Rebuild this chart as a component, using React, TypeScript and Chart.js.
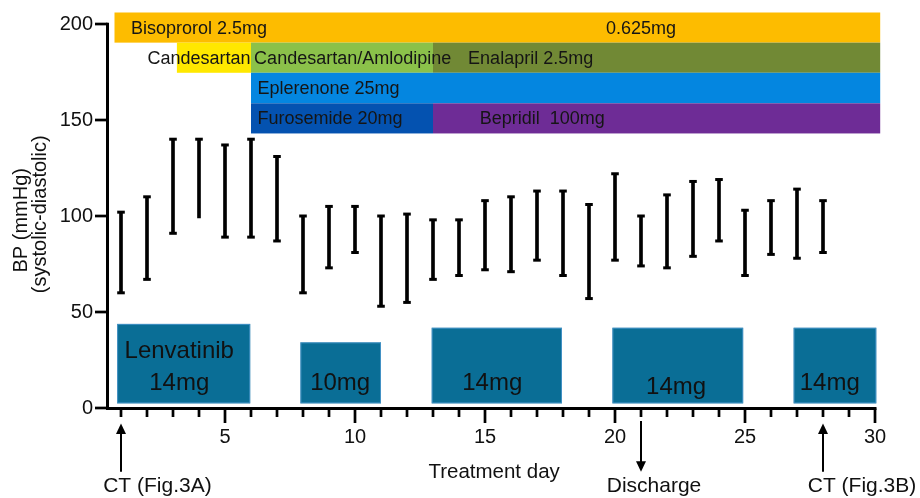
import React, { useEffect, useRef } from 'react';
import { Chart, registerables } from 'chart.js';

Chart.register(...registerables);

const FONT = '"Liberation Sans", Arial, Helvetica, sans-serif';

// Blood pressure (systolic-diastolic) per treatment day
const days = [1, 2, 3, 4, 5, 6, 7, 8, 9, 10, 11, 12, 13, 14, 15, 16, 17, 18, 19, 20, 21, 22, 23, 24, 25, 26, 27, 28];
const systolic = [102, 110, 140, 140, 137, 140, 131, 100, 105, 105, 100, 101, 98, 98, 108, 110, 113, 113, 106, 122, 100, 111, 118, 119, 103, 108, 114, 108];
const diastolic = [60, 67, 91, 99, 89, 89, 87, 60, 73, 81, 53, 55, 67, 69, 72, 71, 77, 69, 57, 77, 74, 73, 79, 87, 69, 80, 78, 81];
const lowerCapShown = [true, true, true, false, true, true, true, true, true, true, true, true, true, true, true, true, true, true, true, true, true, true, true, true, true, true, true, true];

// Axis ticks
const xTickValues = [5, 10, 15, 20, 25, 30];
const yTickValues = [0, 50, 100, 150, 200];
const xMin = 0.5;
const xMax = 30.2;
const yMin = 0;
const yMax = 206;

// Concomitant drug regimens (day ranges, band range in y units)
const drugNames = ['Bisoprorol 2.5mg', 'Candesartan', 'Candesartan/Amlodipine', 'Enalapril 2.5mg', 'Eplerenone 25mg', 'Furosemide 20mg', 'Bepridil  100mg'];
const drugStart = [0.75, 3.15, 6, 13, 6, 6, 13];
const drugEnd = [30.2, 6, 13, 30.2, 30.2, 13, 30.2];
const drugLow = [190.3, 174.6, 174.6, 174.6, 158.7, 143, 143];
const drugHigh = [206, 190.3, 190.3, 190.3, 174.6, 158.7, 158.7];
const drugColors = ['#FDBC00', '#FFE800', '#8BC14A', '#718935', '#0486E0', '#0452B0', '#6E2C96'];
const drugLabelDay = [1.385, 5.98, 6.12, 14.35, 6.25, 6.25, 14.8];
const drugLabelAlign = ['left', 'right', 'left', 'left', 'left', 'left', 'left'];
const doseChangeLabel = '0.625mg';
const doseChangeDay = 21;
const doseChangeRow = 0;

// Lenvatinib dosing periods
const lenvStart = [0.85, 7.9, 12.95, 19.9, 26.87];
const lenvEnd = [5.97, 11.0, 17.96, 24.93, 30.05];
const lenvTop = [43.8, 34.2, 41.8, 41.8, 41.8];
const lenvBottom = 2.4;
const lenvLabels = [['Lenvatinib', '14mg'], ['10mg'], ['14mg'], ['14mg'], ['14mg']];
const lenvLabelDay = [3.24, 9.43, 15.28, 22.35, 28.26];
const lenvLabelLevel = [13, 13, 13, 11, 13];

// Events
const eventDays = [1, 21, 28];
const eventLabels = ['CT (Fig.3A)', 'Discharge', 'CT (Fig.3B)'];
const eventDirs = ['up', 'down', 'up'];
const eventLabelDay = [2.4, 21.5, 29.5];

const decorPlugin = {
  id: 'bpDecor',
  beforeDatasetsDraw(chart: any) {
    const { ctx, scales } = chart;
    const x = scales.x;
    const y = scales.y;
    ctx.save();
    // drug bands
    drugNames.forEach((_, i) => {
      const x0 = x.getPixelForValue(drugStart[i]);
      const x1 = x.getPixelForValue(drugEnd[i]);
      const y0 = y.getPixelForValue(drugHigh[i]);
      const y1 = y.getPixelForValue(drugLow[i]);
      ctx.fillStyle = drugColors[i];
      ctx.fillRect(x0, y0, x1 - x0, y1 - y0);
    });
    // lenvatinib boxes
    lenvStart.forEach((s, i) => {
      const x0 = x.getPixelForValue(s);
      const x1 = x.getPixelForValue(lenvEnd[i]);
      const y0 = y.getPixelForValue(lenvTop[i]);
      const y1 = y.getPixelForValue(lenvBottom);
      ctx.fillStyle = '#0A6E96';
      ctx.fillRect(x0, y0, x1 - x0, y1 - y0);
      ctx.strokeStyle = 'rgba(90,160,215,0.7)';
      ctx.lineWidth = 1;
      ctx.strokeRect(x0 + 0.5, y0 + 0.5, x1 - x0 - 1, y1 - y0 - 1);
    });
    // texts in drug bands
    ctx.fillStyle = '#151515';
    ctx.font = `18px ${FONT}`;
    ctx.textBaseline = 'middle';
    drugNames.forEach((n, i) => {
      ctx.textAlign = drugLabelAlign[i] as CanvasTextAlign;
      const cy = y.getPixelForValue((drugLow[i] + drugHigh[i]) / 2) + 1;
      ctx.fillText(n, x.getPixelForValue(drugLabelDay[i]), cy);
    });
    ctx.textAlign = 'center';
    ctx.fillText(
      doseChangeLabel,
      x.getPixelForValue(doseChangeDay),
      y.getPixelForValue((drugLow[doseChangeRow] + drugHigh[doseChangeRow]) / 2) + 1
    );
    // texts in lenvatinib boxes
    ctx.font = `24px ${FONT}`;
    ctx.fillStyle = '#111';
    lenvLabels.forEach((lines, i) => {
      const cx = x.getPixelForValue(lenvLabelDay[i]);
      const baseY = y.getPixelForValue(lenvLabelLevel[i]);
      lines.forEach((t, k) => {
        ctx.fillText(t, cx, baseY - (lines.length - 1 - k) * 31.3);
      });
    });
    ctx.restore();
  },
  afterDatasetsDraw(chart: any) {
    const { ctx, scales, chartArea } = chart;
    const x = scales.x;
    const y = scales.y;
    ctx.save();
    ctx.strokeStyle = '#000';
    ctx.fillStyle = '#000';
    // error-bar caps
    ctx.lineWidth = 3;
    days.forEach((d, i) => {
      const px = x.getPixelForValue(d);
      const caps = lowerCapShown[i] ? [systolic[i], diastolic[i]] : [systolic[i]];
      caps.forEach((v) => {
        const py = y.getPixelForValue(v);
        ctx.beginPath();
        ctx.moveTo(px - 3.8, py);
        ctx.lineTo(px + 3.8, py);
        ctx.stroke();
      });
    });
    // axes
    const ax = chartArea.left - 0.5;
    const ay = y.getPixelForValue(0) + 0.5;
    ctx.lineWidth = 3;
    ctx.beginPath();
    ctx.moveTo(ax, y.getPixelForValue(200) - 1.3);
    ctx.lineTo(ax, ay + 1.5);
    ctx.stroke();
    ctx.beginPath();
    ctx.moveTo(ax - 1.5, ay);
    ctx.lineTo(x.getPixelForValue(30) + 1.5, ay);
    ctx.stroke();
    ctx.lineWidth = 2.7;
    yTickValues.forEach((v) => {
      const py = y.getPixelForValue(v);
      ctx.beginPath();
      ctx.moveTo(ax - 12.5, py);
      ctx.lineTo(ax, py);
      ctx.stroke();
    });
    for (let d = 1; d <= 30; d++) {
      const px = x.getPixelForValue(d);
      ctx.beginPath();
      ctx.moveTo(px, ay);
      ctx.lineTo(px, ay + (d % 5 === 0 ? 14.5 : 8.5));
      ctx.stroke();
    }
    // event arrows and labels
    ctx.lineWidth = 2;
    ctx.font = `21px ${FONT}`;
    ctx.textAlign = 'center';
    ctx.textBaseline = 'middle';
    eventDays.forEach((d, i) => {
      const px = x.getPixelForValue(d);
      const top = eventDirs[i] === 'up' ? ay + 15 : ay + 12.5;
      const bottom = ay + 63.3;
      ctx.beginPath();
      if (eventDirs[i] === 'up') {
        ctx.moveTo(px, bottom);
        ctx.lineTo(px, top + 8);
        ctx.stroke();
        ctx.beginPath();
        ctx.moveTo(px, top);
        ctx.lineTo(px - 5, top + 10.5);
        ctx.lineTo(px + 5, top + 10.5);
      } else {
        ctx.moveTo(px, top);
        ctx.lineTo(px, bottom - 8);
        ctx.stroke();
        ctx.beginPath();
        ctx.moveTo(px, bottom);
        ctx.lineTo(px - 5, bottom - 10.5);
        ctx.lineTo(px + 5, bottom - 10.5);
      }
      ctx.closePath();
      ctx.fill();
      ctx.fillStyle = '#111';
      ctx.fillText(eventLabels[i], x.getPixelForValue(eventLabelDay[i]), ay + 77.5);
      ctx.fillStyle = '#000';
    });
    // axis titles
    ctx.fillStyle = '#111';
    ctx.font = `20.5px ${FONT}`;
    ctx.fillText('Treatment day', (chartArea.left + chartArea.right) / 2, ay + 63.5);
    ctx.font = `20px ${FONT}`;
    const midY = (chartArea.top + chartArea.bottom) / 2;
    ctx.save();
    ctx.translate(21, midY + 10);
    ctx.rotate(-Math.PI / 2);
    ctx.fillText('BP (mmHg)', 0, 0);
    ctx.restore();
    ctx.save();
    ctx.translate(40, midY + 4);
    ctx.rotate(-Math.PI / 2);
    ctx.fillText('(systolic-diastolic)', 0, 0);
    ctx.restore();
    ctx.restore();
  },
};

export default function App() {
  const canvasRef = useRef<HTMLCanvasElement | null>(null);

  useEffect(() => {
    const canvas = canvasRef.current;
    if (!canvas) return;
    const chart = new Chart(canvas, {
      type: 'bar',
      data: {
        datasets: [
          {
            label: 'BP',
            data: days.map((d, i) => ({ x: d, y: [diastolic[i], systolic[i]] })) as any,
            backgroundColor: '#000',
            borderWidth: 0,
            barThickness: 3,
          },
        ],
      },
      options: {
        animation: false,
        responsive: false,
        maintainAspectRatio: false,
        layout: { padding: { top: 12.5, right: 39.8, bottom: 0, left: 0 } },
        plugins: { legend: { display: false }, tooltip: { enabled: false } },
        scales: {
          x: {
            type: 'linear',
            min: xMin,
            max: xMax,
            offset: false,
            grid: { display: false, drawTicks: false },
            border: { display: false },
            afterBuildTicks: (s: any) => {
              s.ticks = xTickValues.map((v) => ({ value: v }));
            },
            afterFit: (s: any) => {
              s.height = 90;
              s.paddingLeft = 0;
              s.paddingRight = 0;
            },
            ticks: {
              font: { family: FONT, size: 20 },
              color: '#111',
              padding: 17,
              maxRotation: 0,
              autoSkip: false,
            },
          },
          y: {
            type: 'linear',
            min: yMin,
            max: yMax,
            grid: { display: false, drawTicks: false },
            border: { display: false },
            afterBuildTicks: (s: any) => {
              s.ticks = yTickValues.map((v) => ({ value: v }));
            },
            afterFit: (s: any) => {
              s.width = 108;
              s.paddingTop = 0;
              s.paddingBottom = 0;
            },
            ticks: {
              font: { family: FONT, size: 20 },
              color: '#111',
              padding: 15,
            },
          },
        },
      } as any,
      plugins: [decorPlugin],
    });
    return () => chart.destroy();
  }, []);

  return (
    <div style={{ position: 'fixed', left: 0, top: 0, width: 920, height: 498, background: '#fff' }}>
      <canvas ref={canvasRef} width={920} height={498} style={{ display: 'block', width: 920, height: 498 }} />
    </div>
  );
}
